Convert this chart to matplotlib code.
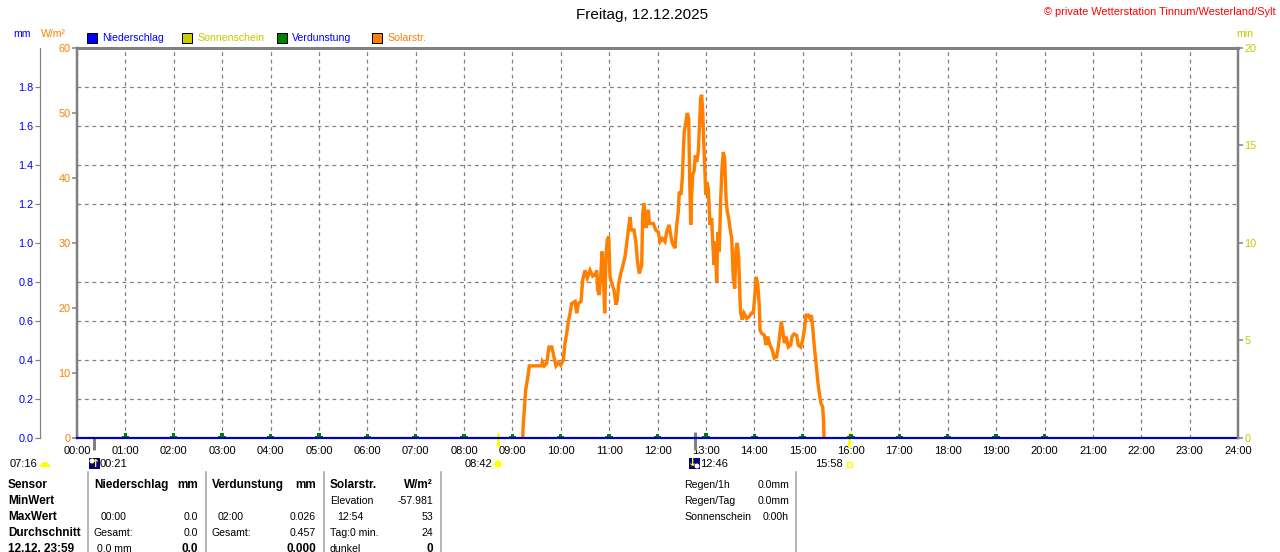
#!/usr/bin/env python3
"""
Tagesgrafik Wetterstation Tinnum - Niederschlag / Sonnenschein / Verdunstung / Solarstrahlung
"""

import matplotlib
matplotlib.use('Agg')
import matplotlib.pyplot as plt
from matplotlib.patches import Rectangle, Wedge, Circle
from matplotlib.ticker import FixedLocator

W_PX, H_PX = 1280, 552
DPI = 100

# Solarstrahlung: Minuten seit Mitternacht / W/m²
solar_min = [552.8, 553.5, 554.8, 556.5, 559.0, 561.0, 576.4, 577.1, 579.6, 582.6,
             585.4, 588.8, 591.6, 594.1, 597.0, 599.9, 603.2, 605.3, 607.4, 609.4,
             611.5, 613.6, 617.7, 619.8, 621.8, 625.1, 627.2, 630.1, 632.9, 636.3,
             639.6, 642.5, 644.6, 645.8, 647.8, 649.9, 651.2, 652.8, 654.5, 656.1,
             657.7, 659.5, 661.1, 663.2, 666.0, 668.5, 670.1, 671.9, 674.4, 676.8,
             679.7, 681.8, 683.8, 685.9, 687.5, 690.9, 693.3, 695.0, 697.4, 700.4,
             701.6, 703.3, 705.4, 707.4, 708.6, 709.8, 714.8, 717.8, 721.0, 723.1,
             726.0, 729.3, 731.4, 734.3, 736.4, 738.3, 741.7, 743.8, 745.8, 747.0,
             749.1, 750.8, 752.0, 753.2, 755.3, 757.0, 758.7, 759.9, 761.2, 762.4,
             763.7, 765.3, 766.9, 768.6, 770.6, 771.9, 773.6, 774.8, 776.1, 777.3,
             778.5, 779.8, 781.0, 783.0, 785.1, 787.2, 788.5, 790.1, 791.7, 793.4,
             795.0, 796.6, 798.4, 800.0, 801.6, 803.3, 805.0, 806.6, 808.3, 809.9,
             812.0, 814.0, 815.8, 817.4, 819.0, 820.7, 822.3, 823.2, 825.2, 827.3,
             830.6, 833.9, 836.3, 838.8, 840.6, 842.2, 844.3, 846.3, 847.1, 849.2,
             852.5, 854.6, 856.7, 859.5, 862.4, 864.9, 867.8, 869.8, 871.9, 873.6,
             875.3, 877.3, 879.4, 882.2, 885.2, 886.8, 889.3, 892.6, 894.6, 897.6,
             900.1, 902.1, 904.2, 907.0, 909.1, 910.8, 912.5, 914.1, 915.8, 917.5,
             919.1, 920.7, 922.8, 924.9, 926.1, 926.5]
solar_wm2 = [0.0, 2.0, 4.3, 7.4, 9.2, 11.1, 11.1, 11.7, 11.1, 11.5,
             14.0, 14.0, 12.5, 11.1, 11.6, 11.2, 12.0, 14.6, 16.1, 17.9,
             19.2, 20.7, 21.0, 19.2, 20.7, 21.0, 24.3, 25.8, 24.6, 25.8,
             24.9, 25.1, 25.8, 22.8, 22.0, 25.6, 28.7, 25.3, 19.2, 27.9,
             30.5, 31.0, 24.8, 23.8, 22.8, 20.5, 21.2, 23.8, 25.3, 26.4,
             27.9, 30.0, 32.0, 34.0, 32.0, 32.0, 30.0, 27.4, 25.3, 26.6,
             34.3, 36.1, 32.3, 33.8, 35.1, 33.0, 33.0, 32.0, 31.7, 30.2,
             30.7, 30.2, 31.7, 32.8, 31.2, 30.0, 29.2, 32.8, 34.8, 37.9,
             37.4, 40.0, 44.0, 47.1, 48.7, 50.0, 49.2, 40.0, 32.8, 37.4,
             40.5, 41.0, 43.5, 42.5, 44.0, 47.6, 52.3, 52.8, 50.2, 45.6,
             42.0, 37.4, 39.4, 38.4, 32.8, 33.8, 30.2, 26.6, 30.2, 24.0,
             31.7, 28.7, 36.9, 41.5, 44.0, 43.0, 36.9, 34.8, 33.8, 32.3,
             30.7, 24.6, 23.0, 29.2, 30.0, 27.6, 21.5, 19.2, 18.2, 19.2,
             18.4, 18.7, 19.2, 19.2, 21.7, 24.8, 23.8, 20.2, 16.6, 16.1,
             15.8, 14.3, 15.6, 14.3, 13.5, 12.3, 12.5, 14.0, 16.1, 17.9,
             16.6, 14.6, 15.6, 14.0, 14.3, 15.6, 16.0, 15.8, 14.3, 14.0,
             15.1, 16.6, 18.9, 18.9, 18.4, 18.9, 17.1, 14.6, 12.5, 10.5,
             8.4, 6.9, 5.3, 4.8, 2.3, 0.0]

# Verdunstung je Stunde (mm)
verdunstung_hour = [1, 2, 3, 4, 5, 6, 7, 8, 9, 10, 11, 12, 13, 14, 15, 16, 17, 18, 19, 20]
verdunstung_mm = [0.024, 0.026, 0.024, 0.023, 0.024, 0.023, 0.022, 0.022, 0.023, 0.023,
                  0.022, 0.023, 0.024, 0.022, 0.023, 0.022, 0.023, 0.022, 0.023, 0.023]

# Niederschlag (mm) - ganzer Tag trocken
niederschlag_hour = [0, 24]
niederschlag_mm = [0.0, 0.0]

# Sonne / Mond (Stunden)
sunrise, sunset = 8 + 42 / 60, 15 + 58 / 60
moonrise, moonset = 0 + 21 / 60, 12 + 46 / 60

hour_labels = ['%02d:00' % h for h in range(25)]
mm_ticks = [0.0, 0.2, 0.4, 0.6, 0.8, 1.0, 1.2, 1.4, 1.6, 1.8]
wm2_ticks = [0, 10, 20, 30, 40, 50, 60]
min_ticks = [0, 5, 10, 15, 20]

BLUE = '#0000ff'
ORANGE = '#ff8000'
OLIVE = '#c8c800'
GREEN = '#008000'
GRAY = '#808080'

plt.rcParams['font.family'] = ['Liberation Sans', 'DejaVu Sans']
PT = 72.0 / DPI  # 1 pixel in points

fig = plt.figure(figsize=(W_PX / DPI, H_PX / DPI), dpi=DPI, facecolor='white')

# main axes, W/m²
ax = fig.add_axes([77 / W_PX, 114 / H_PX, (1238 - 77) / W_PX, 390 / H_PX])
ax.set_xlim(0, 24)
ax.set_ylim(0, 60)
ax.set_xticks(range(25))
ax.set_xticklabels(hour_labels)
ax.set_yticks(wm2_ticks)
ax.yaxis.set_minor_locator(FixedLocator([6 * i for i in range(1, 10)]))
ax.tick_params(axis='x', length=0, pad=5.5, labelsize=8, labelcolor='black')
ax.tick_params(axis='y', which='major', direction='out', length=5 * PT, width=1.5 * PT,
               color=GRAY, labelsize=7.8, labelcolor=ORANGE, pad=1)
ax.tick_params(axis='y', which='minor', length=0)
ax.grid(axis='x', which='major', color=GRAY, linestyle=(0, (3, 3)), linewidth=0.9)
ax.grid(axis='y', which='minor', color=GRAY, linestyle=(0, (3, 3)), linewidth=0.9)
ax.set_axisbelow(True)
for side in ['right', 'bottom']:
    ax.spines[side].set_visible(False)
ax.spines['top'].set_color(GRAY)
ax.spines['top'].set_linewidth(3 * PT)
ax.spines['left'].set_color(GRAY)
ax.spines['left'].set_linewidth(2.5 * PT)

ax.plot([m / 60 for m in solar_min], solar_wm2, color=ORANGE, lw=3.4 * PT,
        solid_joinstyle='miter', zorder=3)

# sunrise / sunset and moon marks at the time axis
ax.vlines([sunrise, sunset], -1.4, 0.8, color='#ffff00', lw=3 * PT, clip_on=False, zorder=5)
ax.vlines([moonrise], -1.9, 0.0, color=GRAY, lw=3 * PT, clip_on=False, zorder=5)
ax.vlines([moonset], -1.9, 0.9, color=GRAY, lw=3 * PT, clip_on=False, zorder=5)

# mm axis (left, outward)
ax_mm = ax.twinx()
ax_mm.set_ylim(0, 2.0)
ax_mm.yaxis.set_ticks_position('left')
ax_mm.yaxis.set_label_position('left')
ax_mm.spines['left'].set_position(('outward', 37 * PT))
ax_mm.spines['left'].set_visible(True)
ax_mm.spines['left'].set_color(GRAY)
ax_mm.spines['left'].set_linewidth(1.2 * PT)
for side in ['right', 'top', 'bottom']:
    ax_mm.spines[side].set_visible(False)
ax_mm.set_yticks(mm_ticks)
ax_mm.set_yticklabels(['%.1f' % v for v in mm_ticks])
ax_mm.tick_params(axis='y', direction='out', length=5 * PT, width=1.2 * PT, color=GRAY,
                  labelsize=7.8, labelcolor=BLUE, pad=1)
ax_mm.bar(verdunstung_hour, verdunstung_mm, width=0.07, color=GREEN, zorder=3)
ax_mm.bar(verdunstung_hour, [v * 0.35 for v in verdunstung_mm], width=0.15, color=GREEN, zorder=3)
ax_mm.plot(niederschlag_hour, niederschlag_mm, color='#0000c8', lw=2.2 * PT,
           clip_on=False, zorder=4)

# min axis (right, Sonnenschein)
ax_min = ax.twinx()
ax_min.set_ylim(0, 20)
ax_min.set_yticks(min_ticks)
for side in ['left', 'top', 'bottom']:
    ax_min.spines[side].set_visible(False)
ax_min.spines['right'].set_color(GRAY)
ax_min.spines['right'].set_linewidth(2.5 * PT)
ax_min.tick_params(axis='y', direction='out', length=5 * PT, width=1.5 * PT, color=GRAY,
                   labelsize=7.8, labelcolor=OLIVE, pad=1)

# overlay in pixel coordinates for headers, legend and table
ov = fig.add_axes([0, 0, 1, 1])
ov.set_xlim(0, W_PX)
ov.set_ylim(H_PX, 0)
ov.axis('off')
ov.patch.set_visible(False)


def txt(x, y, s, ha='left', color='black', size=7.6, bold=False, **kw):
    if bold and size == 7.6:
        size = 8.5
    ov.text(x, y, s, ha=ha, va='center', color=color, fontsize=size,
            fontweight='bold' if bold else 'normal', **kw)


txt(642, 15, 'Freitag, 12.12.2025', ha='center', size=11)
txt(1276, 12, '\u00a9 private Wetterstation Tinnum/Westerland/Sylt', ha='right', color='#ff0000', size=7.9)
txt(22, 34, 'mm', ha='center', color=BLUE)
txt(53, 34, 'W/m\u00b2', ha='center', color=ORANGE)
txt(1245, 34, 'min', ha='center', color=OLIVE)

legend_items = [('Niederschlag', BLUE, BLUE, 87),
                ('Sonnenschein', '#cccc00', OLIVE, 182),
                ('Verdunstung', GREEN, BLUE, 277),
                ('Solarstr.', ORANGE, ORANGE, 372)]
for name, fc, tc, x0 in legend_items:
    ov.add_patch(Rectangle((x0, 33), 10, 10, facecolor=fc, edgecolor='black', lw=1 * PT))
    txt(x0 + 15, 38, name, color=tc)

# row below the time axis: day length, sun and moon times
txt(10, 464, '07:16', size=8)
ov.add_patch(Wedge((45, 467), 5, 180, 360, facecolor='#ffff00', edgecolor='none'))
ov.add_patch(Rectangle((89, 458), 11, 11, facecolor='#000080', edgecolor='none'))
ov.add_patch(Circle((92, 461), 2.5, facecolor='white', edgecolor='none'))
ov.text(95.5, 464, '\u2191', ha='center', va='center', color='#ffff00', fontsize=8,
        fontweight='bold', family='DejaVu Sans')
txt(100, 464, '00:21', size=8)
txt(492, 464, '08:42', ha='right', size=8)
ov.add_patch(Circle((498, 464), 3.5, facecolor='#ffff00', edgecolor='none'))
for dx, dy in [(1, 0), (-1, 0), (0, 1), (0, -1), (0.7, 0.7), (-0.7, 0.7), (0.7, -0.7), (-0.7, -0.7)]:
    ov.plot([498 + 4.5 * dx, 498 + 6 * dx], [464 + 4.5 * dy, 464 + 6 * dy], color='#ffff60', lw=0.8)
ov.add_patch(Rectangle((689, 458), 11, 11, facecolor='#000080', edgecolor='none'))
ov.add_patch(Circle((697, 466), 2.5, facecolor='white', edgecolor='none'))
ov.text(693, 463, '\u2193', ha='center', va='center', color='#ffff00', fontsize=8,
        fontweight='bold', family='DejaVu Sans')
txt(700, 464, '12:46', size=8)
txt(843, 464, '15:58', ha='right', size=8)
ov.add_patch(Rectangle((846.5, 461.5), 5, 5, facecolor='none', edgecolor='#ffff00', lw=1))

# table
for xs in [88, 205.5, 323.5, 441, 795.5]:
    ov.plot([xs, xs], [472, H_PX], color='#a0a0a0', lw=1.5 * PT)

rows = [485, 501, 517, 533, 549]
for y, s in zip(rows, ['Sensor', 'MinWert', 'MaxWert', 'Durchschnitt', '12.12. 23:59']):
    txt(8, y, s, bold=True)

txt(94, rows[0], 'Niederschlag', bold=True)
txt(198, rows[0], 'mm', ha='right', bold=True)
txt(101, rows[2], '00:00')
txt(198, rows[2], '0.0', ha='right')
txt(94, rows[3], 'Gesamt:')
txt(198, rows[3], '0.0', ha='right')
txt(97, rows[4], '0.0 mm')
txt(198, rows[4], '0.0', ha='right', bold=True)

txt(212, rows[0], 'Verdunstung', bold=True)
txt(316, rows[0], 'mm', ha='right', bold=True)
txt(218, rows[2], '02:00')
txt(316, rows[2], '0.026', ha='right')
txt(212, rows[3], 'Gesamt:')
txt(316, rows[3], '0.457', ha='right')
txt(316, rows[4], '0.000', ha='right', bold=True)

txt(330, rows[0], 'Solarstr.', bold=True)
txt(433, rows[0], 'W/m\u00b2', ha='right', bold=True)
txt(330, rows[1], 'Elevation')
txt(433, rows[1], '-57.981', ha='right')
txt(337, rows[2], '12:54')
txt(433, rows[2], '53', ha='right')
txt(330, rows[3], 'Tag:0 min.')
txt(433, rows[3], '24', ha='right')
txt(330, rows[4], 'dunkel')
txt(433, rows[4], '0', ha='right', bold=True)

for y, a, b in zip(rows[:3], ['Regen/1h', 'Regen/Tag', 'Sonnenschein'], ['0.0mm', '0.0mm', '0:00h']):
    txt(684, y, a)
    txt(789, y, b, ha='right')

fig.savefig('out.png', dpi=DPI, facecolor='white')
print('saved out.png')
